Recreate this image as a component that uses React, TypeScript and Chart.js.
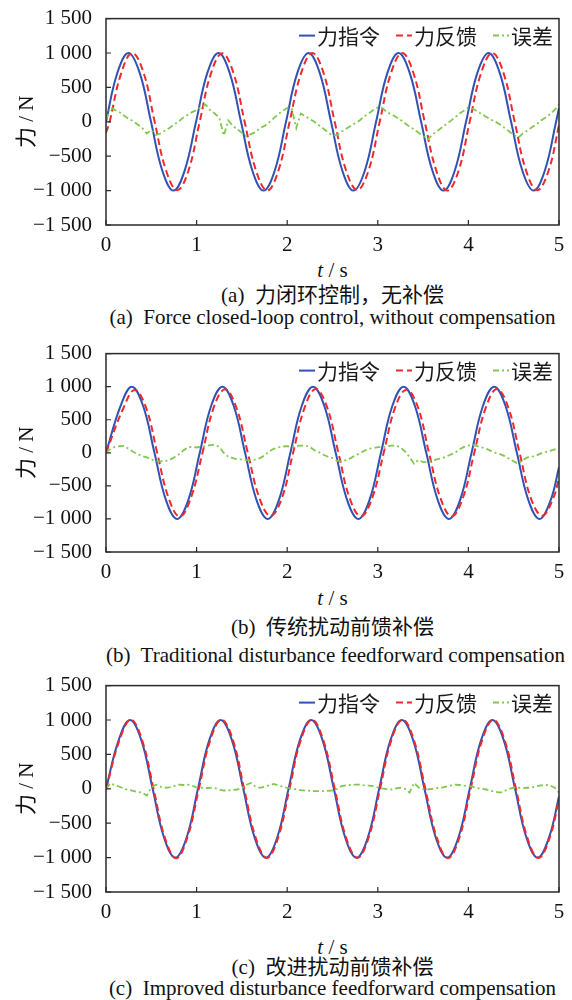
import React, { useEffect, useRef } from 'react';
import { Chart, registerables } from 'chart.js';

Chart.register(...registerables);

const SERIF = "'Liberation Serif', 'Noto Sans CJK SC', serif";
const CJK = "'Noto Sans CJK SC', 'Liberation Serif', sans-serif";

// ---------- axis ticks ----------
const xTicks = [0, 1, 2, 3, 4, 5];
const xTickLabels = ['0', '1', '2', '3', '4', '5'];
const yTicks = [-1500, -1000, -500, 0, 500, 1000, 1500];
const yTickLabels = ['\u22121 500', '\u22121 000', '\u2212500', '0', '500', '1 000', '1 500'];

// ---------- legend / captions ----------
const seriesLabels = ['力指令', '力反馈', '误差'];
const seriesColors = ['#2f52b4', '#f02a2a', '#80c850'];
const yTitle = '力 / N';
const captionCn = ['(a)  力闭环控制，无补偿', '(b)  传统扰动前馈补偿', '(c)  改进扰动前馈补偿'];
const captionEn = [
  '(a)  Force closed-loop control, without compensation',
  '(b)  Traditional disturbance feedforward compensation',
  '(c)  Improved disturbance feedforward compensation',
];

// ---------- panel (a) ----------
const cmdTimeA = [0, 0.124, 0.248, 0.373, 0.497, 0.621, 0.745, 0.869, 0.994, 1.118, 1.242, 1.366, 1.49, 1.615, 1.739, 1.863, 1.987, 2.111, 2.236, 2.36, 2.484, 2.608, 2.732, 2.857, 2.981, 3.105, 3.229, 3.353, 3.478, 3.602, 3.726, 3.85, 3.974, 4.098, 4.223, 4.347, 4.471, 4.595, 4.72, 4.844, 4.968, 5.0];
const cmdA = [0, 706, 1000, 707, 0, -707, -1000, -706, 0, 707, 1000, 707, 0, -707, -1000, -707, 0, 707, 1000, 707, 0, -707, -1000, -707, 0, 707, 1000, 707, 0, -707, -1000, -707, 0, 707, 1000, 707, 0, -707, -1000, -707, 0, 201];
const fbTimeA = [0, 0.04, 0.164, 0.288, 0.413, 0.537, 0.661, 0.785, 0.909, 1.034, 1.158, 1.282, 1.406, 1.53, 1.655, 1.779, 1.903, 2.027, 2.151, 2.276, 2.4, 2.524, 2.648, 2.772, 2.897, 3.021, 3.145, 3.269, 3.393, 3.518, 3.642, 3.766, 3.89, 4.014, 4.138, 4.263, 4.387, 4.511, 4.635, 4.759, 4.884, 5.0];
const fbA = [-160, 0, 690, 1000, 720, 0, -700, -995, -715, 0, 700, 995, 712, 0, -705, -1000, -710, 0, 695, 1000, 715, 0, -700, -990, -712, 0, 705, 1000, 710, 0, -695, -1000, -718, 0, 700, 1000, 712, 0, -702, -995, -715, -50];

// error sampled every 0.05 s
const errTime = [
  0, 0.05, 0.1, 0.15, 0.2, 0.25, 0.3, 0.35, 0.4, 0.45,
  0.5, 0.55, 0.6, 0.65, 0.7, 0.75, 0.8, 0.85, 0.9, 0.95,
  1.0, 1.05, 1.1, 1.15, 1.2, 1.25, 1.3, 1.35, 1.4, 1.45,
  1.5, 1.55, 1.6, 1.65, 1.7, 1.75, 1.8, 1.85, 1.9, 1.95,
  2.0, 2.05, 2.1, 2.15, 2.2, 2.25, 2.3, 2.35, 2.4, 2.45,
  2.5, 2.55, 2.6, 2.65, 2.7, 2.75, 2.8, 2.85, 2.9, 2.95,
  3.0, 3.05, 3.1, 3.15, 3.2, 3.25, 3.3, 3.35, 3.4, 3.45,
  3.5, 3.55, 3.6, 3.65, 3.7, 3.75, 3.8, 3.85, 3.9, 3.95,
  4.0, 4.05, 4.1, 4.15, 4.2, 4.25, 4.3, 4.35, 4.4, 4.45,
  4.5, 4.55, 4.6, 4.65, 4.7, 4.75, 4.8, 4.85, 4.9, 4.95,
  5.0,
];
const errA = [
  30, 210, 170, 140, 90, 40, 10, -40, -90, -170,
  -120, -190, -170, -130, -90, -40, 0, 60, 100, 140,
  170, 210, 250, 170, 120, 60, -200, 20, -60, -110,
  -160, -210, -180, -150, -90, -60, -10, 50, 110, 160,
  200, 190, -90, 120, 80, 40, 0, -50, -100, -150,
  -200, -190, -140, -100, -60, -20, 20, 80, 120, 170,
  210, 200, 140, 110, 70, 30, -20, -70, -110, -160,
  -200, -260, -190, -140, -90, -40, 10, 60, 120, 160,
  210, 190, 150, 110, 70, 30, 0, -40, -90, -140,
  -190, -230, -170, -130, -80, -40, 20, 60, 110, 170,
  250,
];

// ---------- panel (b) ----------
const cmdTimeB = [0, 0.16, 0.285, 0.41, 0.535, 0.66, 0.785, 0.91, 1.035, 1.16, 1.285, 1.41, 1.535, 1.66, 1.785, 1.91, 2.035, 2.16, 2.285, 2.41, 2.535, 2.66, 2.785, 2.91, 3.035, 3.16, 3.285, 3.41, 3.535, 3.66, 3.785, 3.91, 4.035, 4.16, 4.285, 4.41, 4.535, 4.66, 4.785, 4.91, 5.0];
const cmdB = [0, 707, 1000, 707, 0, -707, -1000, -707, 0, 707, 1000, 707, 0, -707, -1000, -707, 0, 707, 1000, 707, 0, -707, -1000, -707, 0, 707, 1000, 707, 0, -707, -1000, -707, 0, 707, 1000, 707, 0, -707, -1000, -707, -218];
const fbTimeB = [0, 0.19, 0.315, 0.44, 0.565, 0.69, 0.815, 0.94, 1.065, 1.19, 1.315, 1.44, 1.565, 1.69, 1.815, 1.94, 2.065, 2.19, 2.315, 2.44, 2.565, 2.69, 2.815, 2.94, 3.065, 3.19, 3.315, 3.44, 3.565, 3.69, 3.815, 3.94, 4.065, 4.19, 4.315, 4.44, 4.565, 4.69, 4.815, 4.94, 5.0];
const fbB = [0, 670, 950, 690, 0, -680, -965, -670, 0, 690, 960, 680, 0, -670, -955, -690, 0, 675, 965, 690, 0, -690, -960, -675, 0, 680, 955, 700, 0, -680, -960, -680, 0, 675, 965, 685, 0, -690, -950, -675, -380];
const errB = [
  0, 60, 90, 100, 105, 60, 15, -20, -50, -70,
  -100, -120, -130, -125, -110, -70, -30, 30, 80, 90,
  80, 90, 100, 115, 120, 90, 0, -60, -80, -100,
  -100, -110, -115, -100, -80, -40, 20, 60, 80, 95,
  100, 95, 105, 110, 110, 90, 40, 10, -30, -60,
  -80, -120, -130, -110, -80, -40, -10, 30, 60, 70,
  85, 85, 95, 110, 110, 80, 20, -65, -165, -110,
  -140, -135, -120, -100, -85, -60, -30, 0, 50, 90,
  110, 115, 100, 80, 60, 30, 0, -20, -50, -90,
  -130, -165, -110, -70, -60, -40, -10, 10, 30, 50,
  40,
];

// ---------- panel (c) ----------
const cmdTimeC = [0, 0.14, 0.265, 0.39, 0.515, 0.64, 0.765, 0.89, 1.015, 1.14, 1.265, 1.39, 1.515, 1.64, 1.765, 1.89, 2.015, 2.14, 2.265, 2.39, 2.515, 2.64, 2.765, 2.89, 3.015, 3.14, 3.265, 3.39, 3.515, 3.64, 3.765, 3.89, 4.015, 4.14, 4.265, 4.39, 4.515, 4.64, 4.765, 4.89, 5.0];
const cmdC = [0, 707, 1000, 707, 0, -707, -1000, -707, 0, 707, 1000, 707, 0, -707, -1000, -707, 0, 707, 1000, 707, 0, -707, -1000, -707, 0, 707, 1000, 707, 0, -707, -1000, -707, 0, 707, 1000, 707, 0, -707, -1000, -707, -110];
const fbTimeC = [0, 0.15, 0.275, 0.4, 0.525, 0.65, 0.775, 0.9, 1.025, 1.15, 1.275, 1.4, 1.525, 1.65, 1.775, 1.9, 2.025, 2.15, 2.275, 2.4, 2.525, 2.65, 2.775, 2.9, 3.025, 3.15, 3.275, 3.4, 3.525, 3.65, 3.775, 3.9, 4.025, 4.15, 4.275, 4.4, 4.525, 4.65, 4.775, 4.9, 5.0];
const fbC = [-10, 712, 1005, 700, 0, -712, -1008, -700, 0, 705, 1004, 712, 0, -700, -1005, -710, 0, 708, 1006, 700, 0, -710, -1004, -705, 0, 712, 1005, 702, 0, -705, -1008, -712, 0, 700, 1003, 708, 0, -708, -1006, -700, -150];
const errC = [
  0, 80, 50, 30, 0, -15, -30, -45, -55, -100,
  20, 60, 30, 15, 20, 40, 60, 55, 60, 45,
  20, 15, 10, 15, 10, -10, -25, -25, -15, -10,
  10, 60, 85, 30, 15, 30, 50, 70, 50, 30,
  15, 5, -10, -20, -25, -30, -35, -35, -35, -30,
  -25, 0, 40, 50, 55, 60, 60, 50, 45, 40,
  20, 5, -5, -10, 5, 15, 0, -55, 85, 20,
  -5, -10, 0, 10, 15, 30, 45, 60, 55, 45,
  40, 30, 10, 0, -10, -30, -45, -55, -30, 0,
  15, 15, 10, 15, 20, 35, 50, 60, 50, 20,
  -55,
];

const pairs = (xs: number[], ys: number[]) => xs.map((x, i) => ({ x, y: ys[i] }));

const framePlugin = {
  id: 'frameAndLegend',
  afterDraw(chart: any) {
    const { ctx, chartArea } = chart;
    const { left, right, top, bottom } = chartArea;
    const xs = chart.scales.x;
    const ys = chart.scales.y;
    ctx.save();
    ctx.strokeStyle = '#2a2a2a';
    ctx.lineWidth = 1.5;
    ctx.setLineDash([]);
    ctx.strokeRect(left, top, right - left, bottom - top);
    ctx.lineWidth = 1.2;
    ctx.beginPath();
    xTicks.forEach((v) => {
      const px = xs.getPixelForValue(v);
      ctx.moveTo(px, bottom);
      ctx.lineTo(px, bottom - 5);
    });
    yTicks.forEach((v) => {
      const py = ys.getPixelForValue(v);
      ctx.moveTo(left, py);
      ctx.lineTo(left + 5, py);
    });
    ctx.stroke();

    // legend inside the plot, top right
    ctx.font = `21px ${CJK}`;
    ctx.textBaseline = 'middle';
    ctx.textAlign = 'left';
    const ly = top + 17;
    let x = right - 6;
    const sampleW = 16;
    const ds = chart.data.datasets;
    for (let i = ds.length - 1; i >= 0; i--) {
      const label = ds[i].label as string;
      const w = ctx.measureText(label).width;
      x -= w;
      ctx.fillStyle = '#1a1a1a';
      ctx.fillText(label, x, ly);
      x -= 2;
      ctx.strokeStyle = ds[i].borderColor;
      ctx.lineWidth = 2;
      ctx.setLineDash(ds[i].borderDash || []);
      ctx.beginPath();
      ctx.moveTo(x - sampleW, ly);
      ctx.lineTo(x, ly);
      ctx.stroke();
      x -= sampleW + 16;
    }
    ctx.restore();
  },
};

type PanelProps = {
  boxTop: number;
  boxH: number;
  cmdT: number[];
  cmd: number[];
  fbT: number[];
  fb: number[];
  err: number[];
};

function Panel({ boxTop, boxH, cmdT, cmd, fbT, fb, err }: PanelProps) {
  const ref = useRef<HTMLCanvasElement>(null);
  const padTop = 15;
  const axisH = 30;
  const height = padTop + boxH + axisH;
  useEffect(() => {
    if (!ref.current) return;
    const chart = new Chart(ref.current, {
      type: 'line',
      data: {
        datasets: [
          {
            label: seriesLabels[0],
            data: pairs(cmdT, cmd),
            borderColor: seriesColors[0],
            borderWidth: 2,
            tension: 0.4,
            pointRadius: 0,
            fill: false,
            order: 3,
          },
          {
            label: seriesLabels[1],
            data: pairs(fbT, fb),
            borderColor: seriesColors[1],
            borderWidth: 2,
            borderDash: [7, 4],
            tension: 0.4,
            pointRadius: 0,
            fill: false,
            order: 2,
          },
          {
            label: seriesLabels[2],
            data: pairs(errTime, err),
            borderColor: seriesColors[2],
            borderWidth: 1.8,
            borderDash: [6, 3, 2, 3],
            tension: 0,
            pointRadius: 0,
            fill: false,
            order: 1,
          },
        ],
      },
      options: {
        animation: false,
        responsive: false,
        devicePixelRatio: 1,
        layout: { padding: { top: padTop, right: 13, left: 0, bottom: 0 } },
        plugins: { legend: { display: false }, tooltip: { enabled: false } },
        elements: { point: { radius: 0 } },
        scales: {
          x: {
            type: 'linear',
            min: 0,
            max: 5,
            grid: { display: false },
            border: { display: false },
            afterBuildTicks: (s: any) => {
              s.ticks = xTicks.map((v) => ({ value: v }));
            },
            ticks: {
              callback: (_v: any, i: number) => xTickLabels[i],
              font: { family: SERIF, size: 21 },
              color: '#111',
              padding: 0,
              maxRotation: 0,
              autoSkip: false,
            },
            afterFit: (s: any) => {
              s.height = axisH;
            },
          },
          y: {
            type: 'linear',
            min: -1500,
            max: 1500,
            grid: { display: false },
            border: { display: false },
            afterBuildTicks: (s: any) => {
              s.ticks = yTicks.map((v) => ({ value: v }));
            },
            ticks: {
              callback: (_v: any, i: number) => yTickLabels[i],
              font: { family: SERIF, size: 21 },
              color: '#111',
              padding: 6,
              autoSkip: false,
            },
            title: {
              display: true,
              text: yTitle,
              font: { family: SERIF, size: 21 },
              color: '#111',
              padding: { top: 15, bottom: 0 },
            },
            afterFit: (s: any) => {
              s.width = 106;
            },
          },
        },
      } as any,
      plugins: [framePlugin],
    });
    let alive = true;
    const fontSet: any = (document as any).fonts;
    if (fontSet && fontSet.load) {
      Promise.all([
        fontSet.load("21px 'Liberation Serif'", '0123456789 \u2212/N'),
        fontSet.load("italic 21px 'Liberation Serif'", 't'),
        fontSet.load("21px 'Noto Sans CJK SC'", '力指令反馈误差'),
      ])
        .catch(() => null)
        .then(() => {
          if (alive) chart.update();
        });
    }
    return () => {
      alive = false;
      chart.destroy();
    };
  }, []);
  return (
    <canvas
      ref={ref}
      width={572}
      height={height}
      style={{ position: 'absolute', left: 0, top: boxTop - padTop, display: 'block', width: 572, height }}
    />
  );
}

function TextLine({ y, children }: { y: number; children: React.ReactNode }) {
  return (
    <div
      style={{
        position: 'absolute',
        left: 106,
        width: 453,
        top: y - 13,
        height: 26,
        lineHeight: '26px',
        textAlign: 'center',
        fontSize: 21,
        fontFamily: SERIF,
        color: '#111',
        whiteSpace: 'pre',
      }}
    >
      {children}
    </div>
  );
}

export default function App() {
  useEffect(() => {
    document.body.style.margin = '0';
    document.body.style.background = '#fff';
  }, []);
  return (
    <div style={{ position: 'relative', width: 572, height: 1000, background: '#fff', overflow: 'hidden' }}>
      <Panel boxTop={15} boxH={210} cmdT={cmdTimeA} cmd={cmdA} fbT={fbTimeA} fb={fbA} err={errA} />
      <TextLine y={270}><i>t</i> / s</TextLine>
      <TextLine y={295}>{captionCn[0]}</TextLine>
      <TextLine y={317}>{captionEn[0]}</TextLine>

      <Panel boxTop={350} boxH={202} cmdT={cmdTimeB} cmd={cmdB} fbT={fbTimeB} fb={fbB} err={errB} />
      <TextLine y={598}><i>t</i> / s</TextLine>
      <TextLine y={627}>{captionCn[1]}</TextLine>
      <TextLine y={655}>{captionEn[1]}</TextLine>

      <Panel boxTop={682} boxH={210} cmdT={cmdTimeC} cmd={cmdC} fbT={fbTimeC} fb={fbC} err={errC} />
      <TextLine y={947}><i>t</i> / s</TextLine>
      <TextLine y={967}>{captionCn[2]}</TextLine>
      <TextLine y={988}>{captionEn[2]}</TextLine>
    </div>
  );
}
